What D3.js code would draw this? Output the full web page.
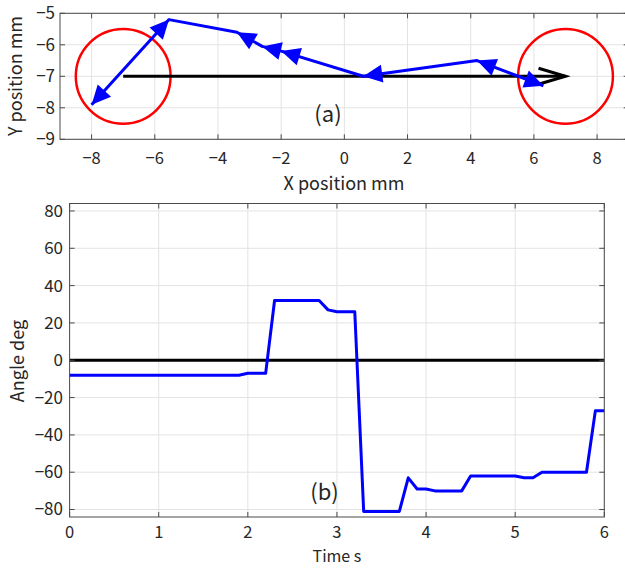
<!DOCTYPE html>
<html>
<head>
<meta charset="utf-8">
<script src="https://cdn.jsdelivr.net/npm/d3@7"></script>
<style>
  body { margin: 0; background: #fff; }
  svg text { font-family: "Noto Sans CJK JP", "Noto Sans", sans-serif; fill: #262626; }
</style>
</head>
<body>
<div id="chart"></div>
<script>
// (a) path of the probe, x / y in mm
var pathX = [-8.0, -5.55, -3.4, -2.6, -2.0, 0.6, 4.2, 6.3];
var pathY = [-7.9, -5.2, -5.6, -6.05, -6.2, -7.0, -6.5, -7.3];
// arrow heads: [from index, to index] -> head sits on "to"
var headPairs = [[1, 0], [0, 1], [3, 2], [4, 3], [5, 4], [6, 5], [7, 6], [6, 7]];
var circleX = [-7, 7], circleY = [-7, -7], circleR = 1.5;
var refStart = [-7, -7], refEnd = [7, -7];
var xTicksA = [-8, -6, -4, -2, 0, 2, 4, 6, 8];
var yTicksA = [-9, -8, -7, -6, -5];

// (b) angle over time
var timeS = [0, 1.9, 2.0, 2.2, 2.3, 2.8, 2.9, 3.0, 3.2, 3.3, 3.7, 3.8, 3.9, 4.0, 4.1, 4.4, 4.5, 5.0, 5.1, 5.2, 5.3, 5.8, 5.9, 6.0];
var angleDeg = [-8, -8, -7, -7, 32, 32, 27, 26, 26, -81, -81, -63, -69, -69, -70, -70, -62, -62, -63, -63, -60, -60, -27, -27];
var xTicksB = [0, 1, 2, 3, 4, 5, 6];
var yTicksB = [-80, -60, -40, -20, 0, 20, 40, 60, 80];

var width = 625, height = 568;
var svg = d3.select("#chart").append("svg")
    .attr("width", width)
    .attr("height", height);

var fmt = function(d) { return d < 0 ? "\u2212" + Math.abs(d) : String(d); };
var gridColor = "#e3e3e3", boxColor = "#4a4a4a", tickLen = 5;

function drawGrid(x, y, xt, yt) {
    var g = svg.append("g");
    var x0 = x.range()[0], x1 = x.range()[1], y0 = y.range()[0], y1 = y.range()[1];
    g.selectAll(".gx").data(xt).enter().append("line")
        .attr("x1", d => x(d)).attr("x2", d => x(d))
        .attr("y1", y0).attr("y2", y1)
        .attr("stroke", gridColor);
    g.selectAll(".gy").data(yt).enter().append("line")
        .attr("x1", x0).attr("x2", x1)
        .attr("y1", d => y(d)).attr("y2", d => y(d))
        .attr("stroke", gridColor);
}

function drawBox(x, y, xt, yt, yLabelRight, xLabelBase) {
    var g = svg.append("g");
    var x0 = x.range()[0], x1 = x.range()[1], y0 = y.range()[0], y1 = y.range()[1];
    g.append("rect")
        .attr("x", x0).attr("y", y1)
        .attr("width", x1 - x0).attr("height", y0 - y1)
        .attr("fill", "none").attr("stroke", boxColor);
    // inward ticks on all four sides
    xt.forEach(function(d) {
        g.append("line").attr("x1", x(d)).attr("x2", x(d)).attr("y1", y0).attr("y2", y0 - tickLen).attr("stroke", boxColor);
        g.append("line").attr("x1", x(d)).attr("x2", x(d)).attr("y1", y1).attr("y2", y1 + tickLen).attr("stroke", boxColor);
    });
    yt.forEach(function(d) {
        g.append("line").attr("x1", x0).attr("x2", x0 + tickLen).attr("y1", y(d)).attr("y2", y(d)).attr("stroke", boxColor);
        g.append("line").attr("x1", x1).attr("x2", x1 - tickLen).attr("y1", y(d)).attr("y2", y(d)).attr("stroke", boxColor);
    });
    g.selectAll(".tx").data(xt).enter().append("text")
        .attr("x", d => x(d)).attr("y", xLabelBase)
        .attr("text-anchor", "middle")
        .style("font-size", "16.5px")
        .text(fmt);
    g.selectAll(".ty").data(yt).enter().append("text")
        .attr("x", yLabelRight).attr("y", d => y(d))
        .attr("dy", "0.35em")
        .attr("text-anchor", "end")
        .style("font-size", "17px")
        .text(fmt);
}

// ---------- (a) ----------
var xA = d3.scaleLinear().domain([-9, 9]).range([60, 628.7]);
var yA = d3.scaleLinear().domain([-9, -5]).range([139.3, 13.3]);
drawGrid(xA, yA, xTicksA, yTicksA);

var clipA = svg.append("defs").append("clipPath").attr("id", "clipA");
clipA.append("rect").attr("x", 60).attr("y", 13.3).attr("width", 568.7).attr("height", 126);

var gA = svg.append("g").attr("clip-path", "url(#clipA)");

gA.selectAll(".circ").data(circleX).enter().append("circle")
    .attr("cx", d => xA(d))
    .attr("cy", (d, i) => yA(circleY[i]))
    .attr("r", xA(circleR) - xA(0))
    .attr("fill", "none")
    .attr("stroke", "#ff0000")
    .attr("stroke-width", 2.5);

// reference direction (black arrow)
gA.append("line")
    .attr("x1", xA(refStart[0])).attr("y1", yA(refStart[1]))
    .attr("x2", xA(refEnd[0])).attr("y2", yA(refEnd[1]))
    .attr("stroke", "#000").attr("stroke-width", 3);
gA.append("path")
    .attr("d", "M" + (xA(refEnd[0]) - 27) + "," + (yA(refEnd[1]) - 8) +
               " L" + xA(refEnd[0]) + "," + yA(refEnd[1]) +
               " L" + (xA(refEnd[0]) - 27) + "," + (yA(refEnd[1]) + 8))
    .attr("fill", "none").attr("stroke", "#000").attr("stroke-width", 3);

var pts = pathX.map((d, i) => [xA(d), yA(pathY[i])]);
gA.append("path")
    .attr("d", d3.line()(pts))
    .attr("fill", "none")
    .attr("stroke", "#0000ff")
    .attr("stroke-width", 3)
    .attr("stroke-linejoin", "round");

var headLen = 19, headHalf = 9;
gA.selectAll(".head").data(headPairs).enter().append("path")
    .attr("d", function(p) {
        var a = pts[p[0]], b = pts[p[1]];
        var dx = b[0] - a[0], dy = b[1] - a[1], L = Math.sqrt(dx * dx + dy * dy);
        var ux = dx / L, uy = dy / L;
        var bx = b[0] - ux * headLen, by = b[1] - uy * headLen;
        return "M" + b[0] + "," + b[1] +
               " L" + (bx - uy * headHalf) + "," + (by + ux * headHalf) +
               " L" + (bx + uy * headHalf) + "," + (by - ux * headHalf) + " Z";
    })
    .attr("fill", "#0000ff");

drawBox(xA, yA, xTicksA, yTicksA, 55, 164);

svg.append("text")
    .attr("x", xA(-0.95)).attr("y", yA(-8.45))
    .style("font-size", "22px")
    .text("(a)");

svg.append("text")
    .attr("x", 344).attr("y", 190)
    .attr("text-anchor", "middle")
    .style("font-size", "18px")
    .text("X position mm");
svg.append("text")
    .attr("transform", "translate(22,76) rotate(-90)")
    .attr("text-anchor", "middle")
    .style("font-size", "18px")
    .text("Y position mm");

// ---------- (b) ----------
var xB = d3.scaleLinear().domain([0, 6]).range([69.6, 604.3]);
var yB = d3.scaleLinear().domain([-84, 84]).range([517, 203.5]);
drawGrid(xB, yB, xTicksB, yTicksB);

svg.append("line")
    .attr("x1", xB(0)).attr("x2", xB(6))
    .attr("y1", yB(0)).attr("y2", yB(0))
    .attr("stroke", "#000").attr("stroke-width", 3);

svg.append("path")
    .datum(timeS)
    .attr("d", d3.line().x(d => xB(d)).y((d, i) => yB(angleDeg[i])))
    .attr("fill", "none")
    .attr("stroke", "#0000ff")
    .attr("stroke-width", 3)
    .attr("stroke-linejoin", "round");

drawBox(xB, yB, xTicksB, yTicksB, 63, 538);

svg.append("text")
    .attr("x", xB(2.7)).attr("y", yB(-75))
    .style("font-size", "22px")
    .text("(b)");

svg.append("text")
    .attr("x", xB(3)).attr("y", 562)
    .attr("text-anchor", "middle")
    .style("font-size", "16px")
    .text("Time s");
svg.append("text")
    .attr("transform", "translate(24,361) rotate(-90)")
    .attr("text-anchor", "middle")
    .style("font-size", "18px")
    .text("Angle deg");
</script>
</body>
</html>
